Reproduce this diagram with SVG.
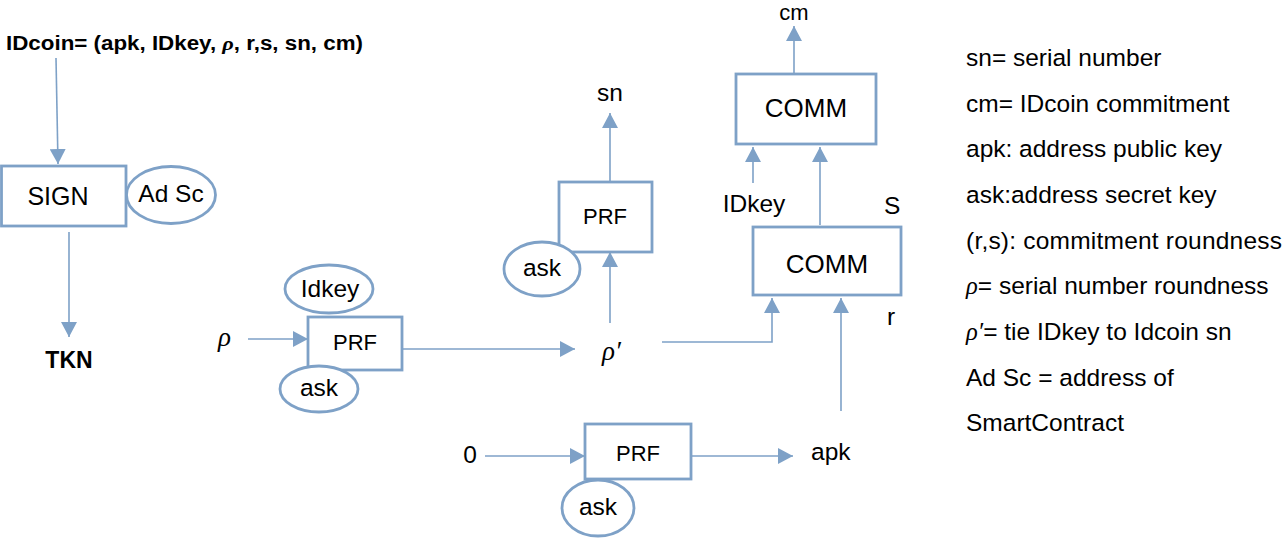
<svg xmlns="http://www.w3.org/2000/svg" width="1286" height="539" viewBox="0 0 1286 539">
<style>
.box{fill:#fff;stroke:#7EA1C7;stroke-width:2.8}
.ell{fill:#fff;stroke:#7EA1C7;stroke-width:2.8}
.ln{fill:none;stroke:#7EA1C7;stroke-width:1.6}
.t{font-family:"Liberation Sans",Arial,sans-serif;font-size:24.5px;fill:#000}
.m{text-anchor:middle}
.b{font-weight:bold}
.g{font-family:"Liberation Serif","DejaVu Serif",serif;font-style:italic}
</style>
<defs>
<marker id="ah" markerUnits="userSpaceOnUse" markerWidth="16" markerHeight="16" refX="15" refY="8" orient="auto">
<path d="M0,0 L15,8 L0,16 z" fill="#7EA1C7"/>
</marker>
</defs>

<g id="connectors">
<line class="ln" x1="56" y1="58" x2="58" y2="164" marker-end="url(#ah)"/>
<line class="ln" x1="69" y1="232" x2="69" y2="337" marker-end="url(#ah)"/>
<line class="ln" x1="248" y1="339" x2="308" y2="339" marker-end="url(#ah)"/>
<line class="ln" x1="402" y1="349" x2="575" y2="349" marker-end="url(#ah)"/>
<line class="ln" x1="610" y1="323" x2="610" y2="252" marker-end="url(#ah)"/>
<line class="ln" x1="610" y1="182" x2="610" y2="113" marker-end="url(#ah)"/>
<line class="ln" x1="794" y1="73" x2="794" y2="26" marker-end="url(#ah)"/>
<line class="ln" x1="753" y1="183" x2="753" y2="147" marker-end="url(#ah)"/>
<line class="ln" x1="820" y1="225" x2="820" y2="147" marker-end="url(#ah)"/>
<polyline class="ln" points="662,342 772,342 772,298" marker-end="url(#ah)"/>
<line class="ln" x1="841" y1="411" x2="841" y2="298" marker-end="url(#ah)"/>
<line class="ln" x1="485" y1="456" x2="585" y2="456" marker-end="url(#ah)"/>
<line class="ln" x1="691" y1="456" x2="793" y2="456" marker-end="url(#ah)"/>
</g>

<g id="idcoin">
<text class="t b" x="6" y="50" textLength="357" lengthAdjust="spacingAndGlyphs" style="font-size:19.5px">IDcoin= (apk, IDkey,  <tspan class="g">ρ</tspan>, r,s, sn, cm)</text>
</g>

<g id="sign">
<rect class="box" x="1.5" y="166" width="124.5" height="60"/>
<text class="t m" x="58" y="205" style="font-size:25px">SIGN</text>
</g>
<g id="adsc">
<ellipse class="ell" cx="171" cy="195" rx="44.5" ry="28.5"/>
<text class="t m" x="171" y="202">Ad Sc</text>
</g>
<g id="tkn">
<text class="t m b" x="69" y="368" style="font-size:23px">TKN</text>
</g>

<g id="rho">
<text class="t g" x="218" y="346" style="font-size:27px">ρ</text>
</g>
<g id="prf1">
<rect class="box" x="308" y="317" width="94" height="53"/>
<text class="t m" x="355" y="350" style="font-size:22px">PRF</text>
</g>
<g id="idkey1">
<ellipse class="ell" cx="329" cy="289" rx="44" ry="24"/>
<text class="t m" x="330" y="297">Idkey</text>
</g>
<g id="ask1">
<ellipse class="ell" cx="319" cy="389" rx="39" ry="23"/>
<text class="t m" x="319" y="396">ask</text>
</g>

<g id="rhoprime">
<text class="t g" x="602" y="360" style="font-size:27px">ρ′</text>
</g>

<g id="prf2">
<rect class="box" x="559" y="182" width="93" height="70"/>
<text class="t m" x="605" y="224" style="font-size:22px">PRF</text>
</g>
<g id="ask2">
<ellipse class="ell" cx="542" cy="269" rx="38" ry="27"/>
<text class="t m" x="542" y="276">ask</text>
</g>
<g id="sn">
<text class="t m" x="610" y="101">sn</text>
</g>

<g id="comm1">
<rect class="box" x="736" y="74" width="140" height="70"/>
<text class="t m" x="806" y="117" style="font-size:26px">COMM</text>
</g>
<g id="cm">
<text class="t m" x="794" y="20" style="font-size:22px">cm</text>
</g>
<g id="idkey2">
<text class="t m" x="754" y="212">IDkey</text>
</g>
<g id="s">
<text class="t" x="884" y="214">S</text>
</g>
<g id="comm2">
<rect class="box" x="753" y="227" width="148" height="68"/>
<text class="t m" x="827" y="273" style="font-size:26px">COMM</text>
</g>
<g id="r">
<text class="t" x="887" y="325">r</text>
</g>

<g id="zero">
<text class="t m" x="470" y="463">0</text>
</g>
<g id="prf3">
<rect class="box" x="585" y="424" width="106" height="55"/>
<text class="t m" x="638" y="461" style="font-size:22px">PRF</text>
</g>
<g id="ask3">
<ellipse class="ell" cx="598" cy="508" rx="36" ry="28"/>
<text class="t m" x="598" y="515">ask</text>
</g>
<g id="apk">
<text class="t" x="811" y="460">apk</text>
</g>

<g id="legend">
<text class="t" x="966" y="66">sn= serial number</text>
<text class="t" x="966" y="112">cm= IDcoin commitment</text>
<text class="t" x="966" y="157">apk: address public key</text>
<text class="t" x="966" y="203">ask:address secret key</text>
<text class="t" x="966" y="249" textLength="316">(r,s): commitment roundness</text>
<text class="t" x="966" y="294"><tspan class="g">ρ</tspan>= serial number roundness</text>
<text class="t" x="966" y="340"><tspan class="g">ρ′</tspan>= tie IDkey to Idcoin sn</text>
<text class="t" x="966" y="386">Ad Sc = address of</text>
<text class="t" x="966" y="431">SmartContract</text>
</g>
</svg>
